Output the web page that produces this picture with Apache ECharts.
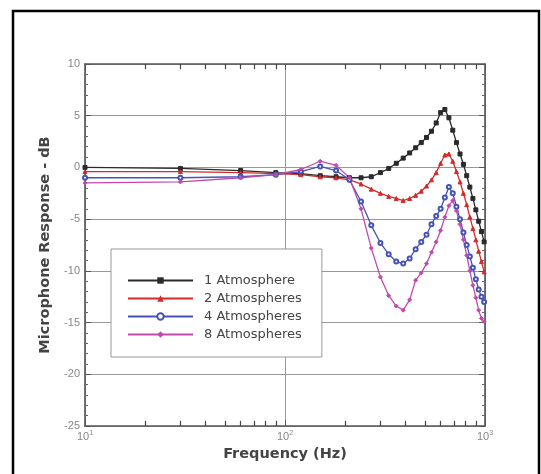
<!DOCTYPE html>
<html>
<head>
<meta charset="utf-8">
<script src="https://cdn.jsdelivr.net/npm/echarts@6/dist/echarts.min.js"></script>
<style>
html,body{margin:0;padding:0;background:#fff;}
#chart{width:541px;height:474px;}
</style>
</head>
<body>
<div id="chart"></div>
<script>
// Frequency (Hz)
const freqHz = [10, 30, 60, 90, 120, 150, 180, 210, 240, 270, 300, 330, 360, 390, 420, 450, 480, 510, 540, 570, 600, 630, 660, 690, 720, 750, 780, 810, 840, 870, 900, 930, 960, 990];
// Microphone response (dB)
const atm1 = [0.0, -0.1, -0.3, -0.5, -0.6, -0.8, -0.9, -1.0, -1.0, -0.9, -0.5, -0.1, 0.4, 0.9, 1.4, 1.9, 2.4, 2.9, 3.5, 4.3, 5.3, 5.6, 4.8, 3.6, 2.4, 1.3, 0.3, -0.8, -1.9, -3.0, -4.1, -5.2, -6.2, -7.2];
const atm2 = [-0.4, -0.4, -0.5, -0.6, -0.7, -0.9, -1.0, -1.2, -1.6, -2.1, -2.5, -2.8, -3.0, -3.2, -3.0, -2.7, -2.3, -1.8, -1.2, -0.5, 0.4, 1.2, 1.3, 0.6, -0.4, -1.4, -2.5, -3.6, -4.8, -5.9, -7.0, -8.1, -9.1, -10.1];
const atm4 = [-1.0, -1.0, -0.9, -0.7, -0.4, 0.1, -0.3, -1.2, -3.3, -5.6, -7.3, -8.4, -9.1, -9.3, -8.8, -7.9, -7.2, -6.5, -5.5, -4.7, -4.0, -2.9, -1.9, -2.5, -3.8, -5.0, -6.3, -7.5, -8.6, -9.7, -10.8, -11.8, -12.5, -13.0];
const atm8 = [-1.5, -1.4, -1.0, -0.7, -0.2, 0.6, 0.2, -1.0, -4.0, -7.8, -10.6, -12.4, -13.4, -13.8, -12.8, -10.9, -10.2, -9.3, -8.2, -7.2, -6.1, -4.8, -3.7, -3.2, -4.2, -5.5, -7.0, -8.5, -10.0, -11.4, -12.6, -13.8, -14.6, -14.9];
const seriesNames = ['1 Atmosphere', '2 Atmospheres', '4 Atmospheres', '8 Atmospheres'];
const xMinorTicks = [20, 30, 40, 50, 60, 70, 80, 90, 200, 300, 400, 500, 600, 700, 800, 900];
const yRange = [-25, 10];
const yStep = 5;

const colors = ['#2a2a2a', '#d42a2a', '#4553b8', '#c24aac'];
const symbols = ['rect', 'triangle', 'emptyCircle', 'diamond'];
const values = [atm1, atm2, atm4, atm8];

const chart = echarts.init(document.getElementById('chart'), null, {renderer: 'canvas'});

const tickColor = '#555';
const baseX = {
  type: 'log', logBase: 10, min: 10, max: 1000, gridIndex: 0
};
const titleFont = {fontFamily: 'DejaVu Sans', fontWeight: 'bold', fontSize: 14.5, color: '#444'};

const lineSeries = seriesNames.map((name, k) => ({
  name: name, type: 'line', xAxisIndex: 0, yAxisIndex: 0,
  data: freqHz.map((f, i) => [f, values[k][i]]),
  symbol: symbols[k], symbolSize: 4, showAllSymbol: true,
  lineStyle: {color: colors[k], width: 1.3},
  itemStyle: {color: colors[k], borderColor: colors[k]},
  z: 3
}));

// log minor ticks (inside) on the bottom and top frame edges, through the x scale
const tickLen = 0.5; // in dB units (~5px)
const tickLines = [];
xMinorTicks.forEach(v => {
  tickLines.push([{coord: [v, yRange[0]]}, {coord: [v, yRange[0] + tickLen]}]);
  tickLines.push([{coord: [v, yRange[1]]}, {coord: [v, yRange[1] - tickLen]}]);
});
const minorTickSeries = {
  type: 'line', name: 'xMinorTicks', xAxisIndex: 0, yAxisIndex: 0, data: [],
  silent: true, symbol: 'none',
  markLine: {
    silent: true, symbol: ['none', 'none'], animation: false,
    label: {show: false},
    lineStyle: {color: '#444', width: 1.2, type: 'solid'},
    emphasis: {disabled: true},
    data: tickLines
  },
  z: 2
};

const option = {
  backgroundColor: '#fff',
  animation: false,
  graphic: [{
    type: 'rect', shape: {x: 13, y: 11, width: 526, height: 472},
    style: {fill: 'none', stroke: '#000', lineWidth: 2.5}, z: 100
  }],
  grid: {left: 85, top: 64, right: 56, bottom: 48, containLabel: false},
  legend: {
    orient: 'vertical', left: 111, top: 249,
    padding: [25, 20, 16, 16], itemGap: 5, itemWidth: 65, itemHeight: 8,
    backgroundColor: '#fff', borderColor: '#999', borderWidth: 1,
    textStyle: {fontFamily: 'DejaVu Sans', fontSize: 13, color: '#444', padding: [0, 0, 0, 6]},
    data: seriesNames, z: 10
  },
  xAxis: [
    Object.assign({}, baseX, {
      position: 'bottom',
      name: 'Frequency (Hz)', nameLocation: 'middle', nameGap: 19,
      nameTextStyle: titleFont,
      axisLine: {show: true, onZero: false, lineStyle: {color: tickColor, width: 1.6}},
      axisTick: {show: true, inside: true, length: 6, lineStyle: {color: '#555'}},
      axisLabel: {
        color: '#888', fontFamily: 'Liberation Sans', fontSize: 11, margin: 4,
        formatter: v => '10{s|' + Math.round(Math.log10(v)) + '}',
        rich: {s: {fontSize: 7, verticalAlign: 'top', color: '#888', padding: [0, 0, 6, 0]}}
      },
      splitLine: {show: true, lineStyle: {color: '#999', width: 1}}
    }),
    Object.assign({}, baseX, {
      position: 'top',
      axisLine: {show: true, onZero: false, lineStyle: {color: tickColor, width: 1.6}},
      axisTick: {show: true, inside: true, length: 6, lineStyle: {color: '#555'}},
      axisLabel: {show: false},
      splitLine: {show: false}
    })
  ],
  yAxis: [
    {
      type: 'value', min: yRange[0], max: yRange[1], interval: yStep, position: 'left',
      name: 'Microphone Response - dB', nameLocation: 'middle', nameGap: 29,
      nameTextStyle: titleFont,
      axisLine: {show: true, onZero: false, lineStyle: {color: tickColor, width: 1.6}},
      axisTick: {show: true, inside: true, length: 6, lineStyle: {color: '#555'}},
      minorTick: {show: true, splitNumber: 5, length: 3, lineStyle: {color: '#666'}},
      axisLabel: {color: '#888', fontFamily: 'Liberation Sans', fontSize: 11, margin: 5},
      splitLine: {show: true, lineStyle: {color: '#999', width: 1}}
    },
    {
      type: 'value', min: yRange[0], max: yRange[1], interval: yStep, position: 'right',
      axisLine: {show: true, onZero: false, lineStyle: {color: tickColor, width: 1.6}},
      axisTick: {show: true, inside: true, length: 6, lineStyle: {color: '#555'}},
      minorTick: {show: true, splitNumber: 5, length: 3, lineStyle: {color: '#666'}},
      axisLabel: {show: false},
      splitLine: {show: false}
    }
  ],
  series: [minorTickSeries].concat(lineSeries)
};
chart.setOption(option);
</script>
</body>
</html>
